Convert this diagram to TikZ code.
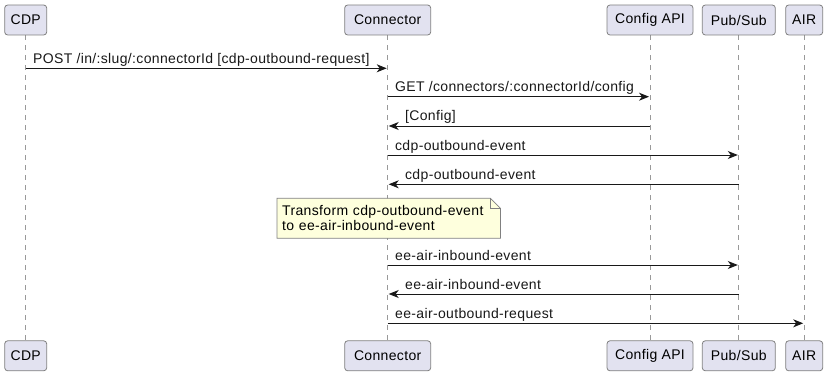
\documentclass[tikz,border=0pt]{standalone}
\usepackage{fontspec}
\setmainfont{Liberation Sans}[LetterSpace=2.5]
\usepackage{xcolor}
\usepackage{tikz}
\usetikzlibrary{arrows.meta,positioning,backgrounds}

\definecolor{partfill}{HTML}{E2E2F0}
\definecolor{notefill}{HTML}{FEFFDD}
\definecolor{ink}{HTML}{181818}

\begin{document}
\begin{tikzpicture}[x=1pt,y=-1pt,>={Stealth[length=10pt,width=8pt,inset=3pt]},
  font=\fontsize{14}{15}\selectfont,
  participant/.style={draw=black!50,line width=0.8pt,fill=partfill,
    rounded corners=3pt,minimum height=30pt,inner sep=0pt},
  lifeline/.style={draw=black!40,line width=0.8pt,dash pattern=on 5pt off 5pt},
  msg/.style={->,ink,line width=0.9pt,shorten >=1pt},
  fwdlabel/.style={pos=0,anchor=base west,inner sep=0pt,xshift=7pt,yshift=5pt},
  retlabel/.style={pos=1,anchor=base west,inner sep=0pt,xshift=17pt,yshift=5pt},
  note/.style={anchor=north west,align=left,text width=213pt,inner xsep=5pt,
    inner ysep=0pt,minimum height=39.5pt}]

\useasboundingbox (0,0) rectangle (829,377);

% participants, head and foot
\node[participant,minimum width=42pt] (cdpT) at (25.7,20) {CDP};
\node[participant,minimum width=86pt] (conT) at (387.7,20) {Connector};
\node[participant,minimum width=86pt] (cfgT) at (650,20) {Config API};
\node[participant,minimum width=73pt] (psT) at (738.8,20) {Pub/Sub};
\node[participant,minimum width=37pt] (airT) at (804.2,20) {AIR};

\node[participant,minimum width=42pt] (cdpB) [below=305pt of cdpT] {CDP};
\node[participant,minimum width=86pt] (conB) [below=305pt of conT] {Connector};
\node[participant,minimum width=86pt] (cfgB) [below=305pt of cfgT] {Config API};
\node[participant,minimum width=73pt] (psB) [below=305pt of psT] {Pub/Sub};
\node[participant,minimum width=37pt] (airB) [below=305pt of airT] {AIR};

% message rows
\coordinate (m1) at (0,68.3);
\coordinate (m2) at (0,96.7);
\coordinate (m3) at (0,126);
\coordinate (m4) at (0,155);
\coordinate (m5) at (0,184.3);
\coordinate (m6) at (0,265);
\coordinate (m7) at (0,294);
\coordinate (m8) at (0,323.3);

\path[msg]
  (cdpT |- m1) edge node[fwdlabel] {POST /in/:slug/:connectorId [cdp-outbound-request]} (conT |- m1)

  (conT |- m2) edge node[fwdlabel] {GET /connectors/:connectorId/config} (cfgT |- m2)
  (cfgT |- m3) edge node[retlabel] {[Config]} (conT |- m3)

  (conT |- m4) edge node[fwdlabel] {cdp-outbound-event} (psT |- m4)
  (psT |- m5)  edge node[retlabel] {cdp-outbound-event} (conT |- m5)

  (conT |- m6) edge node[fwdlabel] {ee-air-inbound-event} (psT |- m6)
  (psT |- m7)  edge node[retlabel] {ee-air-inbound-event} (conT |- m7)

  (conT |- m8) edge node[fwdlabel] {ee-air-outbound-request} (airT |- m8)
;

% note over the connector
\node[note] (tr) at (277,198.3) {Transform cdp-outbound-event\\to ee-air-inbound-event};

\begin{pgfonlayer}{background}
  \draw[lifeline] (cdpT.south) -- (cdpB.north);
  \draw[lifeline] (conT.south) -- (conB.north);
  \draw[lifeline] (cfgT.south) -- (cfgB.north);
  \draw[lifeline] (psT.south) -- (psB.north);
  \draw[lifeline] (airT.south) -- (airB.north);

  \filldraw[fill=notefill,draw=black!50,line width=0.8pt]
    (tr.north west) -- ([xshift=-10pt]tr.north east) -- ([yshift=-10pt]tr.north east)
    -- (tr.south east) -- (tr.south west) -- cycle;
  \draw[draw=black!50,line width=0.8pt]
    ([xshift=-10pt]tr.north east) |- ([yshift=-10pt]tr.north east);
\end{pgfonlayer}
\end{tikzpicture}
\end{document}
